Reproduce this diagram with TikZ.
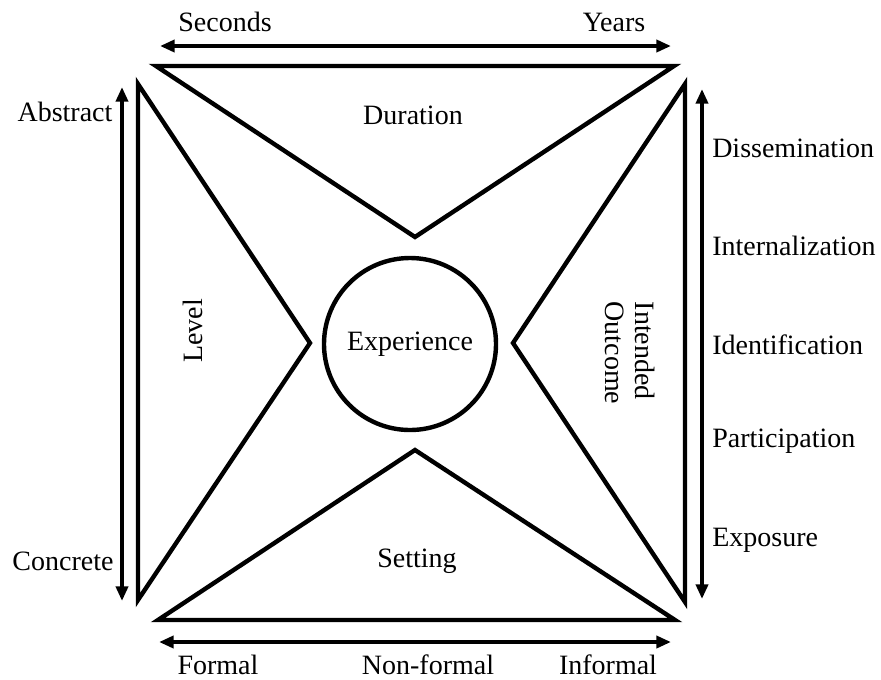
\documentclass[tikz,border=0pt]{standalone}
\usepackage{fontspec}
\setmainfont{Liberation Serif}
\usetikzlibrary{arrows.meta}
\begin{document}
\begin{tikzpicture}[x=0.75pt,y=-0.75pt,
  tri/.style={draw=black,line width=3.3pt,line join=miter},
  axisb/.style={draw=black,line width=2.8pt,{Triangle[length=11pt,width=9pt]}-{Triangle[length=11pt,width=9pt]}},
  lab/.style={font=\fontsize{21}{22.5}\selectfont,inner sep=0pt}]
\useasboundingbox (0,0) rectangle (881,679);
% triangle corners
\coordinate (t1) at (156,66); \coordinate (t2) at (674,66); \coordinate (t3) at (415,237);
\coordinate (l1) at (138,84); \coordinate (l2) at (138,600); \coordinate (l3) at (310,343);
\coordinate (r1) at (685,84); \coordinate (r2) at (685,602); \coordinate (r3) at (513,343);
\coordinate (b1) at (158,620); \coordinate (b2) at (675,620); \coordinate (b3) at (415,450);
\draw[tri] (t1) -- (t2) -- (t3) -- cycle;
\draw[tri] (l1) -- (l2) -- (l3) -- cycle;
\draw[tri] (r1) -- (r2) -- (r3) -- cycle;
\draw[tri] (b1) -- (b2) -- (b3) -- cycle;
\node[circle,draw=black,line width=3.3pt,minimum size=129pt,inner sep=0pt] (exp) at (410,344) {};
\node[lab] at (exp.center) {Experience};
% axes
\coordinate (axL1) at (160,46); \coordinate (axL2) at (671,46);
\draw[axisb] (axL1) -- (axL2);
\coordinate (axB1) at (159,642); \coordinate (axB2) at (671,642);
\draw[axisb] (axB1) -- (axB2);
\coordinate (axl1) at (122,87); \coordinate (axl2) at (122,601);
\draw[axisb] (axl1) -- (axl2);
\coordinate (axr1) at (702,89); \coordinate (axr2) at (702,599);
\draw[axisb] (axr1) -- (axr2);
% labels
\node[lab] (sec) at (225,22) {Seconds};
\node[lab] (yrs) at (614,22) {Years};
\node[lab] (dur) at (413,115) {Duration};
\node[lab] (abs) at (65,112) {Abstract};
\node[lab] (con) at (63,561) {Concrete};
\node[lab,rotate=90] (lev) at (193,331) {Level};
\node[lab,rotate=-90,align=left] (io) at (630,353) {Intended\\Outcome};
\node[lab] (set) at (417,561) {Setting};
\node[lab,anchor=west] (d1) at (712,148) {Dissemination};
\node[lab,anchor=west] (d2) at (712,246) {Internalization};
\node[lab,anchor=west] (d3) at (712,345) {Identification};
\node[lab,anchor=west] (d4) at (712,441) {Participation};
\node[lab,anchor=west] (d5) at (712,540) {Exposure};
\node[lab] (f1) at (218,665) {Formal};
\node[lab] (f2) at (428,665) {Non-formal};
\node[lab] (f3) at (608,665) {Informal};
\end{tikzpicture}
\end{document}
